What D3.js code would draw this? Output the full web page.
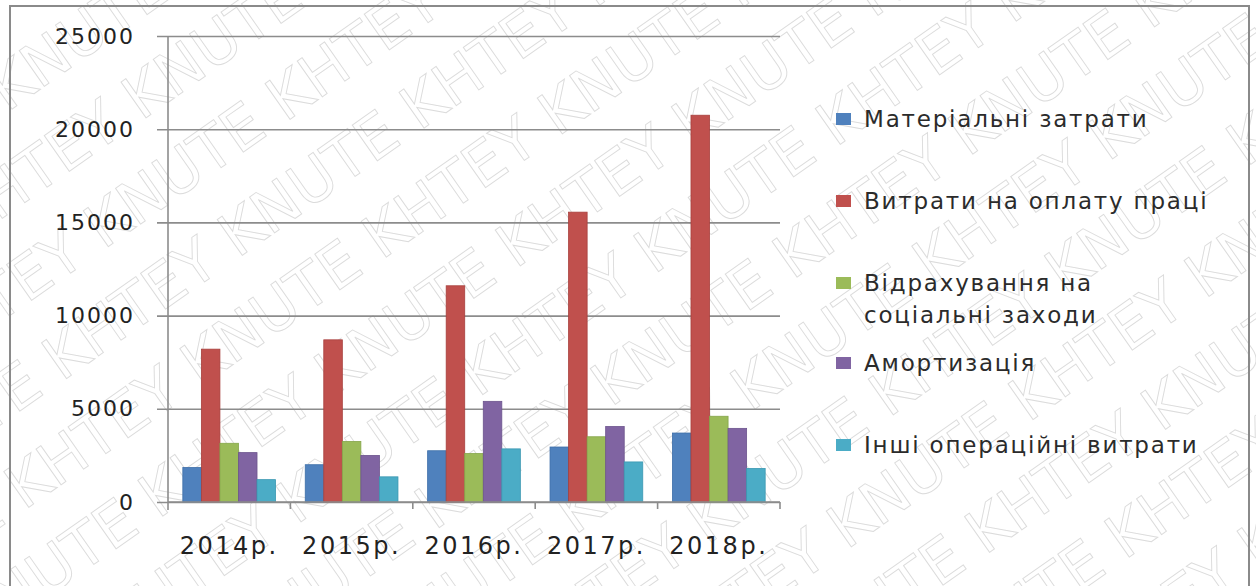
<!DOCTYPE html>
<html>
<head>
<meta charset="utf-8">
<script src="https://cdn.jsdelivr.net/npm/d3@7"></script>
<style>
  body { margin: 0; background: #fff; }
  svg { display: block; }
</style>
</head>
<body>
<div id="chart-area"></div>
<script>
// data
const years = ["2014р.", "2015р.", "2016р.", "2017р.", "2018р."];
const seriesNames = [
  "Матеріальні затрати",
  "Витрати на оплату праці",
  "Відрахування на соціальні заходи",
  "Амортизація",
  "Інші операційні витрати"
];
const material = [1850, 2000, 2750, 2950, 3700];
const wages    = [8200, 8700, 11600, 15550, 20750];
const social   = [3150, 3250, 2600, 3500, 4600];
const amort    = [2650, 2500, 5400, 4050, 3950];
const other    = [1200, 1350, 2850, 2150, 1800];
const yTicks = [0, 5000, 10000, 15000, 20000, 25000];

const colors = ["#4f81bd", "#c0504d", "#9bbb59", "#8064a2", "#4bacc6"];
const strokes = ["#3d6ea8", "#a8403d", "#85a64a", "#6c548d", "#3b98b2"];

const WIDTH = 1256, HEIGHT = 586;
const PLOT = { LEFT: 168, RIGHT: 780, TOP: 36, BOTTOM: 502 };
const FONT = "'DejaVu Sans', Verdana, sans-serif";

const svg = d3.select("#chart-area")
  .append("svg")
    .attr("width", WIDTH)
    .attr("height", HEIGHT);

// watermark behind everything, clipped to the frame
svg.append("clipPath").attr("id", "wmclip")
  .append("rect").attr("x", 0).attr("y", 0).attr("width", WIDTH).attr("height", HEIGHT);
const wm = svg.append("g")
  .attr("clip-path", "url(#wmclip)")
  .append("g")
  .attr("transform", "rotate(-35, 628, 293)")
  .attr("opacity", 0.5);
const wmWords = ["KNUTE", "KHTEY"];
for (let r = -6; r < 8; r++) {
  let line = "";
  for (let k = 0; k < 12; k++) line += wmWords[(k + r + 40) % 2] + " ";
  wm.append("text")
    .attr("x", -650 + (r % 2) * 110)
    .attr("y", 293 + r * 84)
    .attr("font-family", FONT)
    .attr("font-size", "60px")
    .attr("fill", "none")
    .attr("stroke", "#b8b8b8")
    .attr("stroke-width", 0.9)
    .text(line);
}

// outer frame
svg.append("rect")
  .attr("x", 10).attr("y", 6)
  .attr("width", 1239).attr("height", 600)
  .attr("fill", "none")
  .attr("stroke", "#8a8a8a")
  .attr("stroke-width", 2);

// scales
const x0 = d3.scaleBand()
  .domain(years)
  .range([PLOT.LEFT, PLOT.RIGHT])
  .padding(0);

const x1 = d3.scaleBand()
  .domain(d3.range(seriesNames.length))
  .range([0, x0.bandwidth()])
  .paddingInner(0)
  .paddingOuter(0.8);

const y = d3.scaleLinear()
  .domain([0, 25000])
  .range([PLOT.BOTTOM, PLOT.TOP]);

// gridlines + left ticks
const TICK_OUT = 11;
const yAxisCall = d3.axisLeft(y)
  .tickValues(yTicks)
  .tickSize(-(PLOT.RIGHT - PLOT.LEFT + TICK_OUT))
  .tickPadding(22)
  .tickFormat(d => `${d}`);

const yg = svg.append("g")
  .attr("class", "y-axis")
  .attr("transform", `translate(${PLOT.LEFT - TICK_OUT}, 0)`)
  .call(yAxisCall);
yg.select(".domain").remove();
yg.selectAll("line")
  .attr("stroke", "#8c8c8c")
  .attr("stroke-width", 1.6);
yg.selectAll("text")
  .attr("font-family", FONT)
  .attr("font-size", "22px")
  .attr("letter-spacing", "2px")
  .attr("fill", "#222");

// y axis line
svg.append("line")
  .attr("x1", PLOT.LEFT).attr("x2", PLOT.LEFT)
  .attr("y1", PLOT.TOP).attr("y2", PLOT.BOTTOM + 8)
  .attr("stroke", "#8c8c8c")
  .attr("stroke-width", 1.6);

// bars
const allSeries = [material, wages, social, amort, other];
const groups = svg.append("g")
  .selectAll("g")
  .data(years)
  .enter()
  .append("g")
    .attr("transform", d => `translate(${x0(d)}, 0)`);

groups.selectAll("rect")
  .data((d, i) => allSeries.map((s, j) => ({ j: j, v: s[i] })))
  .enter()
  .append("rect")
    .attr("x", d => x1(d.j))
    .attr("y", d => y(d.v))
    .attr("width", x1.bandwidth())
    .attr("height", d => PLOT.BOTTOM - y(d.v))
    .attr("fill", d => colors[d.j])
    .attr("stroke", d => strokes[d.j])
    .attr("stroke-width", 0.8);

// x axis with category boundary ticks
const xg = svg.append("g")
  .attr("class", "x-axis")
  .attr("transform", `translate(0, ${PLOT.BOTTOM})`);
xg.append("line")
  .attr("x1", PLOT.LEFT).attr("x2", PLOT.RIGHT)
  .attr("stroke", "#8c8c8c")
  .attr("stroke-width", 1.6);
xg.selectAll(".bt")
  .data(years.map(d => x0(d) + x0.bandwidth()))
  .enter()
  .append("line")
    .attr("x1", d => d).attr("x2", d => d)
    .attr("y1", 0).attr("y2", 7)
    .attr("stroke", "#8c8c8c")
    .attr("stroke-width", 1.6);
xg.selectAll(".lbl")
  .data(years)
  .enter()
  .append("text")
    .attr("x", d => x0(d) + x0.bandwidth() / 2)
    .attr("y", 52)
    .attr("text-anchor", "middle")
    .attr("font-family", FONT)
    .attr("font-size", "24px")
    .attr("letter-spacing", "2.5px")
    .attr("fill", "#222")
    .text(d => d);

// legend
const legendRows = [
  { lines: ["Матеріальні затрати"], y: 119 },
  { lines: ["Витрати на оплату праці"], y: 201 },
  { lines: ["Відрахування на", "соціальні заходи"], y: 283 },
  { lines: ["Амортизація"], y: 363 },
  { lines: ["Інші операційні витрати"], y: 445 }
];
const lg = svg.append("g").attr("class", "legend");
legendRows.forEach((row, i) => {
  lg.append("rect")
    .attr("x", 836).attr("y", row.y - 6)
    .attr("width", 15).attr("height", 12)
    .attr("fill", colors[i]);
  row.lines.forEach((t, k) => {
    lg.append("text")
      .attr("x", 864)
      .attr("y", row.y + k * 32)
      .attr("dy", "0.35em")
      .attr("font-family", FONT)
      .attr("font-size", "23px")
      .attr("letter-spacing", "1.8px")
      .attr("fill", "#2b2b2b")
      .text(t);
  });
});
</script>
</body>
</html>
